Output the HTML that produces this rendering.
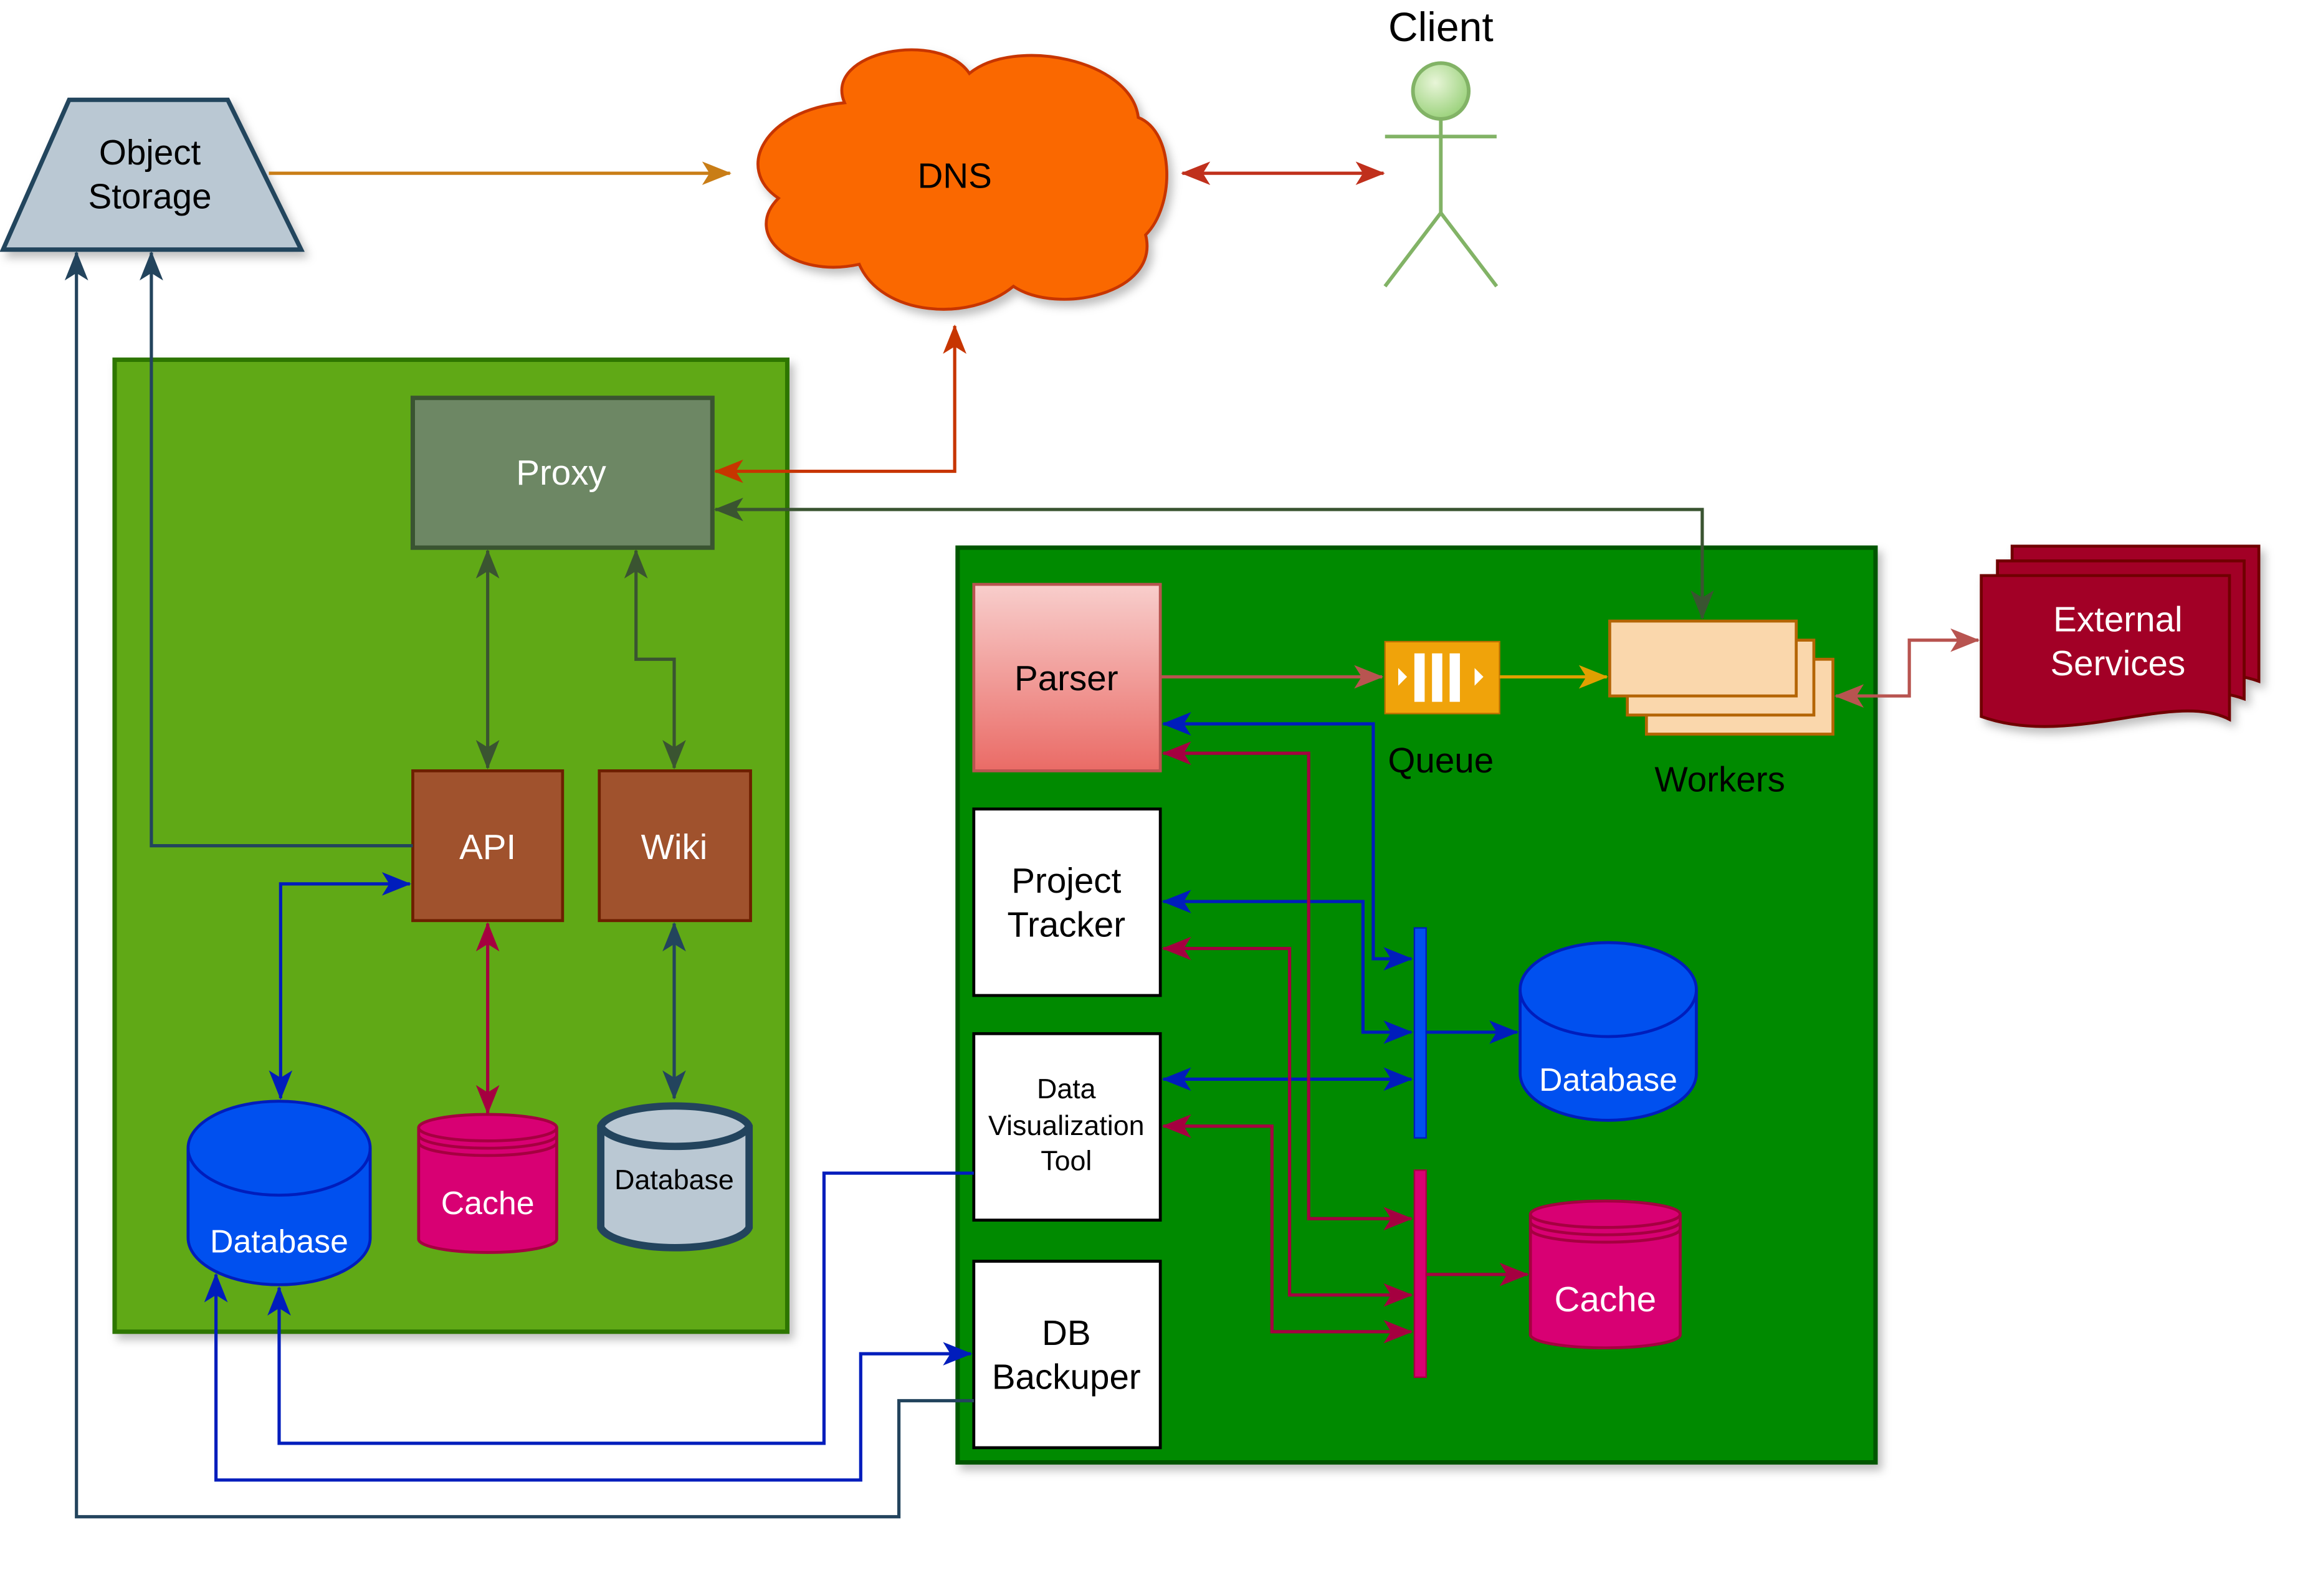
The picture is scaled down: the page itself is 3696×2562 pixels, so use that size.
<!DOCTYPE html>
<html><head><meta charset="utf-8"><style>
html,body{margin:0;padding:0;background:#fff;}
svg{display:block;}
text{font-family:"Liberation Sans",sans-serif;}
</style></head><body>
<svg width="3696" height="2562" viewBox="0 0 1568 1087" xmlns="http://www.w3.org/2000/svg">
<defs>
<linearGradient id="pg" x1="0" y1="0" x2="0" y2="1"><stop offset="0" stop-color="#f8cecc"/><stop offset="1" stop-color="#ea6b66"/></linearGradient>
<radialGradient id="hg" cx="0.4" cy="0.35" r="0.7"><stop offset="0" stop-color="#e8f5d8"/><stop offset="1" stop-color="#97d077"/></radialGradient>
<filter id="sh" x="-10%" y="-10%" width="130%" height="130%"><feDropShadow dx="3" dy="4" stdDeviation="3" flood-color="#000" flood-opacity="0.25"/></filter>
<marker id="m1" viewBox="0 0 20 16" refX="19" refY="8" markerWidth="20" markerHeight="16" orient="auto-start-reverse" markerUnits="userSpaceOnUse"><path d="M0,0 L20,8 L0,16 L5,8 z" fill="#c97d16"/></marker>
<marker id="m2" viewBox="0 0 20 16" refX="19" refY="8" markerWidth="20" markerHeight="16" orient="auto-start-reverse" markerUnits="userSpaceOnUse"><path d="M0,0 L20,8 L0,16 L5,8 z" fill="#c0301c"/></marker>
<marker id="m3" viewBox="0 0 20 16" refX="19" refY="8" markerWidth="20" markerHeight="16" orient="auto-start-reverse" markerUnits="userSpaceOnUse"><path d="M0,0 L20,8 L0,16 L5,8 z" fill="#3a5431"/></marker>
<marker id="m4" viewBox="0 0 20 16" refX="19" refY="8" markerWidth="20" markerHeight="16" orient="auto-start-reverse" markerUnits="userSpaceOnUse"><path d="M0,0 L20,8 L0,16 L5,8 z" fill="#23445d"/></marker>
<marker id="m5" viewBox="0 0 20 16" refX="19" refY="8" markerWidth="20" markerHeight="16" orient="auto-start-reverse" markerUnits="userSpaceOnUse"><path d="M0,0 L20,8 L0,16 L5,8 z" fill="#001dbc"/></marker>
<marker id="m6" viewBox="0 0 20 16" refX="19" refY="8" markerWidth="20" markerHeight="16" orient="auto-start-reverse" markerUnits="userSpaceOnUse"><path d="M0,0 L20,8 L0,16 L5,8 z" fill="#a50040"/></marker>
<marker id="m7" viewBox="0 0 20 16" refX="19" refY="8" markerWidth="20" markerHeight="16" orient="auto-start-reverse" markerUnits="userSpaceOnUse"><path d="M0,0 L20,8 L0,16 L5,8 z" fill="#c73500"/></marker>
<marker id="m8" viewBox="0 0 20 16" refX="19" refY="8" markerWidth="20" markerHeight="16" orient="auto-start-reverse" markerUnits="userSpaceOnUse"><path d="M0,0 L20,8 L0,16 L5,8 z" fill="#b85450"/></marker>
<marker id="m9" viewBox="0 0 20 16" refX="19" refY="8" markerWidth="20" markerHeight="16" orient="auto-start-reverse" markerUnits="userSpaceOnUse"><path d="M0,0 L20,8 L0,16 L5,8 z" fill="#e0a000"/></marker>
</defs>
<style>
.l{fill:none;stroke-width:2.2;}
</style>
<!-- Object storage -->
<polygon points="47,68 155,68 205,170 2,170" fill="#bac8d3" stroke="#23445d" stroke-width="3" filter="url(#sh)"/>
<text x="102" y="112" font-size="24" text-anchor="middle">Object</text>
<text x="102" y="142" font-size="24" text-anchor="middle">Storage</text>
<!-- DNS cloud -->
<path d="M575,70 C560,35 640,20 660,50 C690,25 770,40 775,80 C800,90 800,140 780,160 C790,200 720,215 690,195 C660,220 600,215 585,180 C540,190 505,160 530,135 C500,115 520,75 575,70 Z" fill="#fa6800" stroke="#c73500" stroke-width="2" filter="url(#sh)"/>
<text x="650" y="128" font-size="24" text-anchor="middle">DNS</text>
<!-- Client -->
<text x="981" y="28" font-size="28" text-anchor="middle">Client</text>
<g stroke="#82b366" stroke-width="2.5" fill="none">
<circle cx="981" cy="62" r="19" fill="url(#hg)"/>
<line x1="981" y1="81" x2="981" y2="145"/><line x1="943" y1="93" x2="1019" y2="93"/>
<line x1="981" y1="145" x2="943" y2="195"/><line x1="981" y1="145" x2="1019" y2="195"/>
</g>
<line class="l" x1="183" y1="118" x2="497" y2="118" stroke="#c97d16" marker-end="url(#m1)"/>
<line class="l" x1="805" y1="118" x2="942" y2="118" stroke="#c0301c" stroke-width="3" marker-start="url(#m2)" marker-end="url(#m2)"/>

<!-- Left container -->
<rect x="78" y="245" width="458" height="662" fill="#60a917" stroke="#2d7600" stroke-width="3" filter="url(#sh)"/>
<rect x="281" y="271" width="204" height="102" fill="#6d8764" stroke="#3a5431" stroke-width="3"/>
<text x="382" y="330" font-size="24" fill="#fff" text-anchor="middle">Proxy</text>
<rect x="281" y="525" width="102" height="102" fill="#a0522d" stroke="#6d1f00" stroke-width="2"/>
<text x="332" y="585" font-size="24" fill="#fff" text-anchor="middle">API</text>
<rect x="408" y="525" width="103" height="102" fill="#a0522d" stroke="#6d1f00" stroke-width="2"/>
<text x="459" y="585" font-size="24" fill="#fff" text-anchor="middle">Wiki</text>
<!-- Left DB -->
<path d="M128,782 A62,32 0 0 1 252,782 L252,843 A62,32 0 0 1 128,843 Z" fill="#0050ef" stroke="#001dbc" stroke-width="2"/>
<path d="M128,782 A62,32 0 0 0 252,782" fill="none" stroke="#001dbc" stroke-width="2"/>
<text x="190" y="853" font-size="22" fill="#fff" text-anchor="middle">Database</text>
<!-- Cache -->
<path d="M285,768 A47,9 0 0 1 379,768 L379,844 A47,9 0 0 1 285,844 Z" fill="#d80073" stroke="#a50040" stroke-width="2"/>
<path d="M285,768 A47,9 0 0 0 379,768 M285,773 A47,9 0 0 0 379,773 M285,778 A47,9 0 0 0 379,778" fill="none" stroke="#a50040" stroke-width="2"/>
<text x="332" y="827" font-size="22" fill="#fff" text-anchor="middle">Cache</text>
<!-- Gray DB -->
<path d="M409,767 A51,16 0 0 1 510,767 L510,836 A51,16 0 0 1 409,836 Z" fill="#bac8d3" stroke="#23445d" stroke-width="5"/>
<path d="M409,767 A51,16 0 0 0 510,767" fill="none" stroke="#23445d" stroke-width="5"/>
<text x="459" y="810" font-size="19" text-anchor="middle">Database</text>

<!-- Left connectors -->
<line class="l" x1="332" y1="375" x2="332" y2="523" stroke="#3a5431" marker-start="url(#m3)" marker-end="url(#m3)"/>
<polyline class="l" points="433,375 433,449 459,449 459,523" stroke="#3a5431" marker-start="url(#m3)" marker-end="url(#m3)"/>
<polyline class="l" points="281,576 103,576 103,172" stroke="#23445d" marker-end="url(#m4)"/>
<polyline class="l" points="191,748 191,602 279,602" stroke="#001dbc" marker-start="url(#m5)" marker-end="url(#m5)"/>
<line class="l" x1="332" y1="629" x2="332" y2="758" stroke="#a50040" marker-start="url(#m6)" marker-end="url(#m6)"/>
<line class="l" x1="459" y1="629" x2="459" y2="748" stroke="#23445d" marker-start="url(#m4)" marker-end="url(#m4)"/>
<polyline class="l" points="487,321 650,321 650,222" stroke="#c73500" marker-start="url(#m7)" marker-end="url(#m7)"/>

<!-- Right container -->
<rect x="652" y="373" width="625" height="623" fill="#008a00" stroke="#005700" stroke-width="3" filter="url(#sh)"/>
<polyline class="l" points="487,347 1159,347 1159,421" stroke="#3a5431" marker-start="url(#m3)" marker-end="url(#m3)"/>
<rect x="663" y="398" width="127" height="127" fill="url(#pg)" stroke="#b85450" stroke-width="2"/>
<text x="726" y="470" font-size="24" text-anchor="middle">Parser</text>
<rect x="663" y="551" width="127" height="127" fill="#fff" stroke="#000" stroke-width="2"/>
<text x="726" y="608" font-size="24" text-anchor="middle">Project</text>
<text x="726" y="638" font-size="24" text-anchor="middle">Tracker</text>
<rect x="663" y="704" width="127" height="127" fill="#fff" stroke="#000" stroke-width="2"/>
<text x="726" y="748" font-size="19" text-anchor="middle">Data</text>
<text x="726" y="773" font-size="19" text-anchor="middle">Visualization</text>
<text x="726" y="797" font-size="19" text-anchor="middle">Tool</text>
<rect x="663" y="859" width="127" height="127" fill="#fff" stroke="#000" stroke-width="2"/>
<text x="726" y="916" font-size="24" text-anchor="middle">DB</text>
<text x="726" y="946" font-size="24" text-anchor="middle">Backuper</text>
<!-- Queue -->
<rect x="943" y="437" width="78" height="49" fill="#f0a30a" stroke="#bd7000" stroke-width="1"/>
<g fill="#fff"><rect x="963" y="445" width="7" height="33"/><rect x="975" y="445" width="7" height="33"/><rect x="987" y="445" width="7" height="33"/>
<polygon points="952,455 958,461 952,467"/><polygon points="1004,455 1010,461 1004,467"/></g>
<text x="981" y="526" font-size="24" text-anchor="middle">Queue</text>
<!-- Workers -->
<rect x="1121" y="449" width="127" height="51" fill="#fad7ac" stroke="#b46504" stroke-width="2"/>
<rect x="1108" y="436" width="127" height="51" fill="#fad7ac" stroke="#b46504" stroke-width="2"/>
<rect x="1096" y="423" width="127" height="51" fill="#fad7ac" stroke="#b46504" stroke-width="2"/>
<text x="1171" y="539" font-size="24" text-anchor="middle">Workers</text>
<line class="l" x1="790" y1="461" x2="941" y2="461" stroke="#b85450" marker-end="url(#m8)"/>
<line class="l" x1="1021" y1="461" x2="1094" y2="461" stroke="#e0a000" marker-end="url(#m9)"/>
<polyline class="l" points="1250,474 1300,474 1300,436 1347,436" stroke="#b85450" marker-start="url(#m8)" marker-end="url(#m8)"/>
<!-- External services -->
<g fill="#a20025" stroke="#6f0000" stroke-width="2" filter="url(#sh)">
<path d="M1370,372 L1538,372 L1538,464 C1500,450 1440,470 1370,462 Z"/>
<path d="M1360,382 L1528,382 L1528,476 C1490,462 1430,482 1360,474 Z"/>
<path d="M1349,392 L1518,392 L1518,490 C1480,470 1410,510 1349,488 Z"/>
</g>
<text x="1442" y="430" font-size="24" fill="#fff" text-anchor="middle">External</text>
<text x="1442" y="460" font-size="24" fill="#fff" text-anchor="middle">Services</text>
<!-- bars -->
<rect x="963" y="632" width="8" height="143" fill="#0050ef" stroke="#001dbc"/>
<rect x="963" y="797" width="8" height="141" fill="#d80073" stroke="#a50040"/>
<!-- Right DB -->
<path d="M1035,674 A60,32 0 0 1 1155,674 L1155,731 A60,32 0 0 1 1035,731 Z" fill="#0050ef" stroke="#001dbc" stroke-width="2"/>
<path d="M1035,674 A60,32 0 0 0 1155,674" fill="none" stroke="#001dbc" stroke-width="2"/>
<text x="1095" y="743" font-size="22" fill="#fff" text-anchor="middle">Database</text>
<!-- Right cache -->
<path d="M1042,827 A51,9 0 0 1 1144,827 L1144,909 A51,9 0 0 1 1042,909 Z" fill="#d80073" stroke="#a50040" stroke-width="2"/>
<path d="M1042,827 A51,9 0 0 0 1144,827 M1042,832 A51,9 0 0 0 1144,832 M1042,837 A51,9 0 0 0 1144,837" fill="none" stroke="#a50040" stroke-width="2"/>
<text x="1093" y="893" font-size="24" fill="#fff" text-anchor="middle">Cache</text>
<line class="l" x1="971" y1="703" x2="1033" y2="703" stroke="#001dbc" marker-end="url(#m5)"/>
<line class="l" x1="971" y1="868" x2="1040" y2="868" stroke="#a50040" marker-end="url(#m6)"/>
<!-- Blue connectors -->
<polyline class="l" points="792,493 935,493 935,653 961,653" stroke="#001dbc" marker-start="url(#m5)" marker-end="url(#m5)"/>
<polyline class="l" points="792,614 928,614 928,703 961,703" stroke="#001dbc" marker-start="url(#m5)" marker-end="url(#m5)"/>
<line class="l" x1="792" y1="735" x2="961" y2="735" stroke="#001dbc" marker-start="url(#m5)" marker-end="url(#m5)"/>
<!-- Pink connectors -->
<polyline class="l" points="792,513 891,513 891,830 961,830" stroke="#a50040" marker-start="url(#m6)" marker-end="url(#m6)"/>
<polyline class="l" points="792,646 878,646 878,882 961,882" stroke="#a50040" marker-start="url(#m6)" marker-end="url(#m6)"/>
<polyline class="l" points="792,767 866,767 866,907 961,907" stroke="#a50040" marker-start="url(#m6)" marker-end="url(#m6)"/>
<!-- Bottom connectors -->
<polyline class="l" points="663,799 561,799 561,983 190,983 190,877" stroke="#001dbc" marker-end="url(#m5)"/>
<polyline class="l" points="147,868 147,1008 586,1008 586,922 661,922" stroke="#001dbc" marker-start="url(#m5)" marker-end="url(#m5)"/>
<polyline class="l" points="663,954 612,954 612,1033 52,1033 52,172" stroke="#23445d" marker-end="url(#m4)"/>
</svg>
</body></html>
